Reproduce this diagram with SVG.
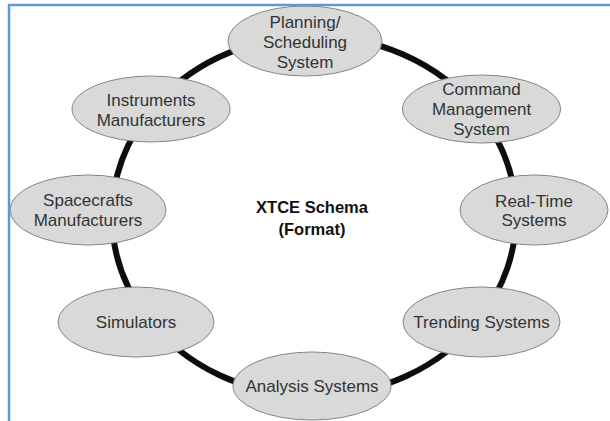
<svg xmlns="http://www.w3.org/2000/svg" width="610" height="421" viewBox="0 0 610 421">
<style>
.node ellipse{fill:#d9d9d9;stroke:#858585;stroke-width:1}
.node text{font-family:"Liberation Sans",Arial,sans-serif;font-size:17px;fill:#333;text-anchor:middle}
.conn path{fill:none;stroke:#0d0d0d;stroke-width:6}
.title{font-family:"Liberation Sans",Arial,sans-serif;font-size:16.5px;font-weight:bold;fill:#111;text-anchor:middle}
.frame{stroke:#5b9bd5;stroke-width:2.5;fill:none}
</style>
<rect width="610" height="421" fill="#fff"/>
<g id="connectors" class="conn">
<path d="M304.8 36.2 A202 180 0 0 1 479.5 112.8"/>
<path d="M479.5 112.8 A202 180 0 0 1 515.9 209.7"/>
<path d="M515.9 209.7 A202 180 0 0 1 478.4 320.5"/>
<path d="M478.4 320.5 A202 180 0 0 1 314 396"/>
<path d="M314 396 A202 180 0 0 1 146.5 316.7"/>
<path d="M146.5 316.7 A202 180 0 0 1 112 216"/>
<path d="M112 216 A202 180 0 0 1 151.2 109.4"/>
<path d="M151.2 109.4 A202 180 0 0 1 304.8 36.2"/>
</g>
<g id="planning" class="node">
<ellipse cx="305" cy="41" rx="77" ry="35"/>
<text x="305" y="28">Planning/</text>
<text x="305" y="48">Scheduling</text>
<text x="305" y="67.5">System</text>
</g>
<g id="command" class="node">
<ellipse cx="481.5" cy="109" rx="79" ry="34"/>
<text x="481.5" y="95">Command</text>
<text x="481.5" y="115">Management</text>
<text x="481.5" y="135">System</text>
</g>
<g id="realtime" class="node">
<ellipse cx="534" cy="210" rx="74" ry="35"/>
<text x="534" y="206.5">Real-Time</text>
<text x="534" y="226">Systems</text>
</g>
<g id="trending" class="node">
<ellipse cx="481.5" cy="322" rx="78.5" ry="35"/>
<text x="481.5" y="328">Trending Systems</text>
</g>
<g id="analysis" class="node">
<ellipse cx="312" cy="386" rx="79" ry="34"/>
<text x="312" y="392">Analysis Systems</text>
</g>
<g id="simulators" class="node">
<ellipse cx="136" cy="322" rx="78" ry="35"/>
<text x="136" y="328">Simulators</text>
</g>
<g id="spacecrafts" class="node">
<ellipse cx="88" cy="210" rx="78" ry="35"/>
<text x="88" y="205.5">Spacecrafts</text>
<text x="88" y="225.5">Manufacturers</text>
</g>
<g id="instruments" class="node">
<ellipse cx="151" cy="109" rx="79" ry="33"/>
<text x="151" y="105.5">Instruments</text>
<text x="151" y="125.5">Manufacturers</text>
</g>
<g id="xtce">
<text class="title" x="312" y="213">XTCE Schema</text>
<text class="title" x="312" y="235">(Format)</text>
</g>
<g id="frame">
<line class="frame" x1="8" y1="5" x2="610" y2="5"/>
<line class="frame" x1="9" y1="4" x2="9" y2="421"/>
</g>
</svg>
